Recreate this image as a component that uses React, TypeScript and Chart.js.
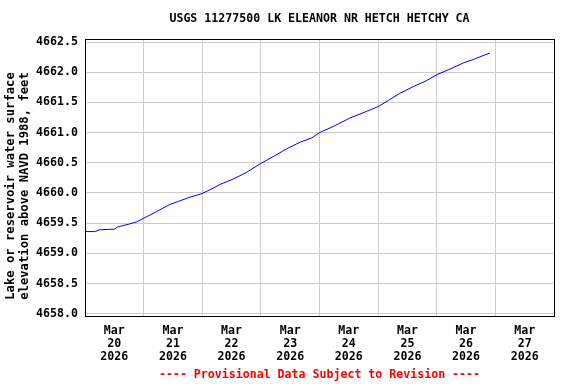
import React, { useEffect, useRef } from "react";
import { Chart, registerables } from "chart.js";

Chart.register(...registerables);

const TITLE = "USGS 11277500 LK ELEANOR NR HETCH HETCHY CA";
const Y_TITLE = ["Lake or reservoir water surface", "elevation above NAVD 1988, feet"];
const FOOTER = "---- Provisional Data Subject to Revision ----";

const MONTH = "Mar";
const YEAR = "2026";
const DAY_LABELS = ["20", "21", "22", "23", "24", "25", "26", "27"];

// hours since Mar 20 2026 00:00
const HOURS = [
  0, 4, 6, 12, 13.6, 17.7, 21.1, 24, 29.3, 34.8, 38.2, 43.0, 48, 52.5, 55.2,
  60.7, 66.1, 72.0, 77.0, 82.5, 88.0, 92.8, 96, 101.6, 108.4, 115.2, 120.0,
  124.1, 128.9, 134.3, 139.8, 144.1, 149.3, 154.7, 160.2, 165.8,
];
const ELEVATION = [
  4659.36, 4659.36, 4659.39, 4659.40, 4659.44, 4659.48, 4659.52, 4659.58,
  4659.69, 4659.81, 4659.86, 4659.93, 4659.99, 4660.08, 4660.14, 4660.23,
  4660.34, 4660.49, 4660.60, 4660.73, 4660.84, 4660.91, 4661.00, 4661.10,
  4661.24, 4661.35, 4661.43, 4661.53, 4661.65, 4661.76, 4661.86, 4661.96,
  4662.05, 4662.15, 4662.23, 4662.32,
];

const Y_TICKS = [4658.0, 4658.5, 4659.0, 4659.5, 4660.0, 4660.5, 4661.0, 4661.5, 4662.0, 4662.5];
const X_TICKS = [0, 12, 24, 36, 48, 60, 72, 84, 96, 108, 120, 132, 144, 156, 168, 180, 192];

const FONT_FAMILY = '"DejaVu Sans Mono", monospace';

const framePlugin = {
  id: "frameAndTexts",
  afterDraw(chart: any) {
    const { ctx, chartArea: a } = chart;
    ctx.save();
    ctx.strokeStyle = "#000000";
    ctx.lineWidth = 1;
    const l = Math.round(a.left) + 0.5;
    const t = Math.round(a.top) + 0.5;
    const r = Math.round(a.right) + 0.5;
    const b = Math.round(a.bottom) - 0.5;
    ctx.strokeRect(l, t, r - l, b - t);
    ctx.font = `bold 11.6px ${FONT_FAMILY}`;
    ctx.textAlign = "center";
    ctx.textBaseline = "middle";
    const cx = (a.left + a.right) / 2;
    ctx.fillStyle = "#000000";
    ctx.fillText(TITLE, cx, 19);
    ctx.fillStyle = "#ff0000";
    ctx.fillText(FOOTER, cx, 375);
    // y-axis title, two rotated lines
    ctx.fillStyle = "#000000";
    ctx.font = `bold 12.2px ${FONT_FAMILY}`;
    const cy = (a.top + a.bottom) / 2 + 8;
    Y_TITLE.forEach((line, i) => {
      ctx.save();
      ctx.translate(11 + i * 14, cy);
      ctx.rotate(-Math.PI / 2);
      ctx.fillText(line, 0, 0);
      ctx.restore();
    });
    ctx.restore();
  },
};

export default function App() {
  const canvasRef = useRef<HTMLCanvasElement | null>(null);

  useEffect(() => {
    document.body.style.margin = "0";
    const canvas = canvasRef.current;
    if (!canvas) return;
    const data = HOURS.map((h, i) => ({ x: h, y: ELEVATION[i] }));
    const chart = new Chart(canvas, {
      type: "line",
      data: {
        datasets: [
          {
            data,
            borderColor: "#0000ff",
            borderWidth: 1,
            pointRadius: 0,
            tension: 0,
            fill: false,
          },
        ],
      },
      plugins: [framePlugin],
      options: {
        responsive: false,
        animation: false,
        events: [],
        layout: { padding: { top: 39, right: 22, bottom: 22, left: 0 } },
        plugins: {
          legend: { display: false },
          title: { display: false },
          tooltip: { enabled: false },
        },
        scales: {
          x: {
            type: "linear",
            min: 0,
            max: 192,
            border: { display: false },
            afterBuildTicks: (scale: any) => {
              scale.ticks = X_TICKS.map((v) => ({ value: v }));
            },
            afterFit: (scale: any) => {
              scale.height = 45;
            },
            grid: {
              drawTicks: false,
              lineWidth: 1,
              color: (ctx: any) =>
                ctx.tick && ctx.tick.value % 24 === 0 ? "#cccccc" : "rgba(0,0,0,0)",
            },
            ticks: {
              autoSkip: false,
              maxRotation: 0,
              minRotation: 0,
              padding: 8,
              color: "#000000",
              font: { family: FONT_FAMILY, size: 11.6, weight: "bold", lineHeight: 1.1 },
              callback: (value: any) => {
                const v = Number(value);
                if (v % 24 === 12) {
                  return [MONTH, DAY_LABELS[(v - 12) / 24], YEAR];
                }
                return "";
              },
            },
          },
          y: {
            type: "linear",
            min: 4657.945,
            max: 4662.55,
            border: { display: false },
            afterBuildTicks: (scale: any) => {
              scale.ticks = Y_TICKS.map((v) => ({ value: v }));
            },
            afterFit: (scale: any) => {
              scale.width = 85;
            },
            grid: {
              drawTicks: false,
              lineWidth: 1,
              color: "#cccccc",
            },
            ticks: {
              padding: 7,
              color: "#000000",
              font: { family: FONT_FAMILY, size: 11.6, weight: "bold" },
              callback: (value: any) => Number(value).toFixed(1),
            },
            title: { display: false },
          },
        },
      },
    });
    return () => chart.destroy();
  }, []);

  return (
    <div style={{ width: 576, height: 384, background: "#ffffff" }}>
      <canvas ref={canvasRef} width={576} height={384} />
    </div>
  );
}
